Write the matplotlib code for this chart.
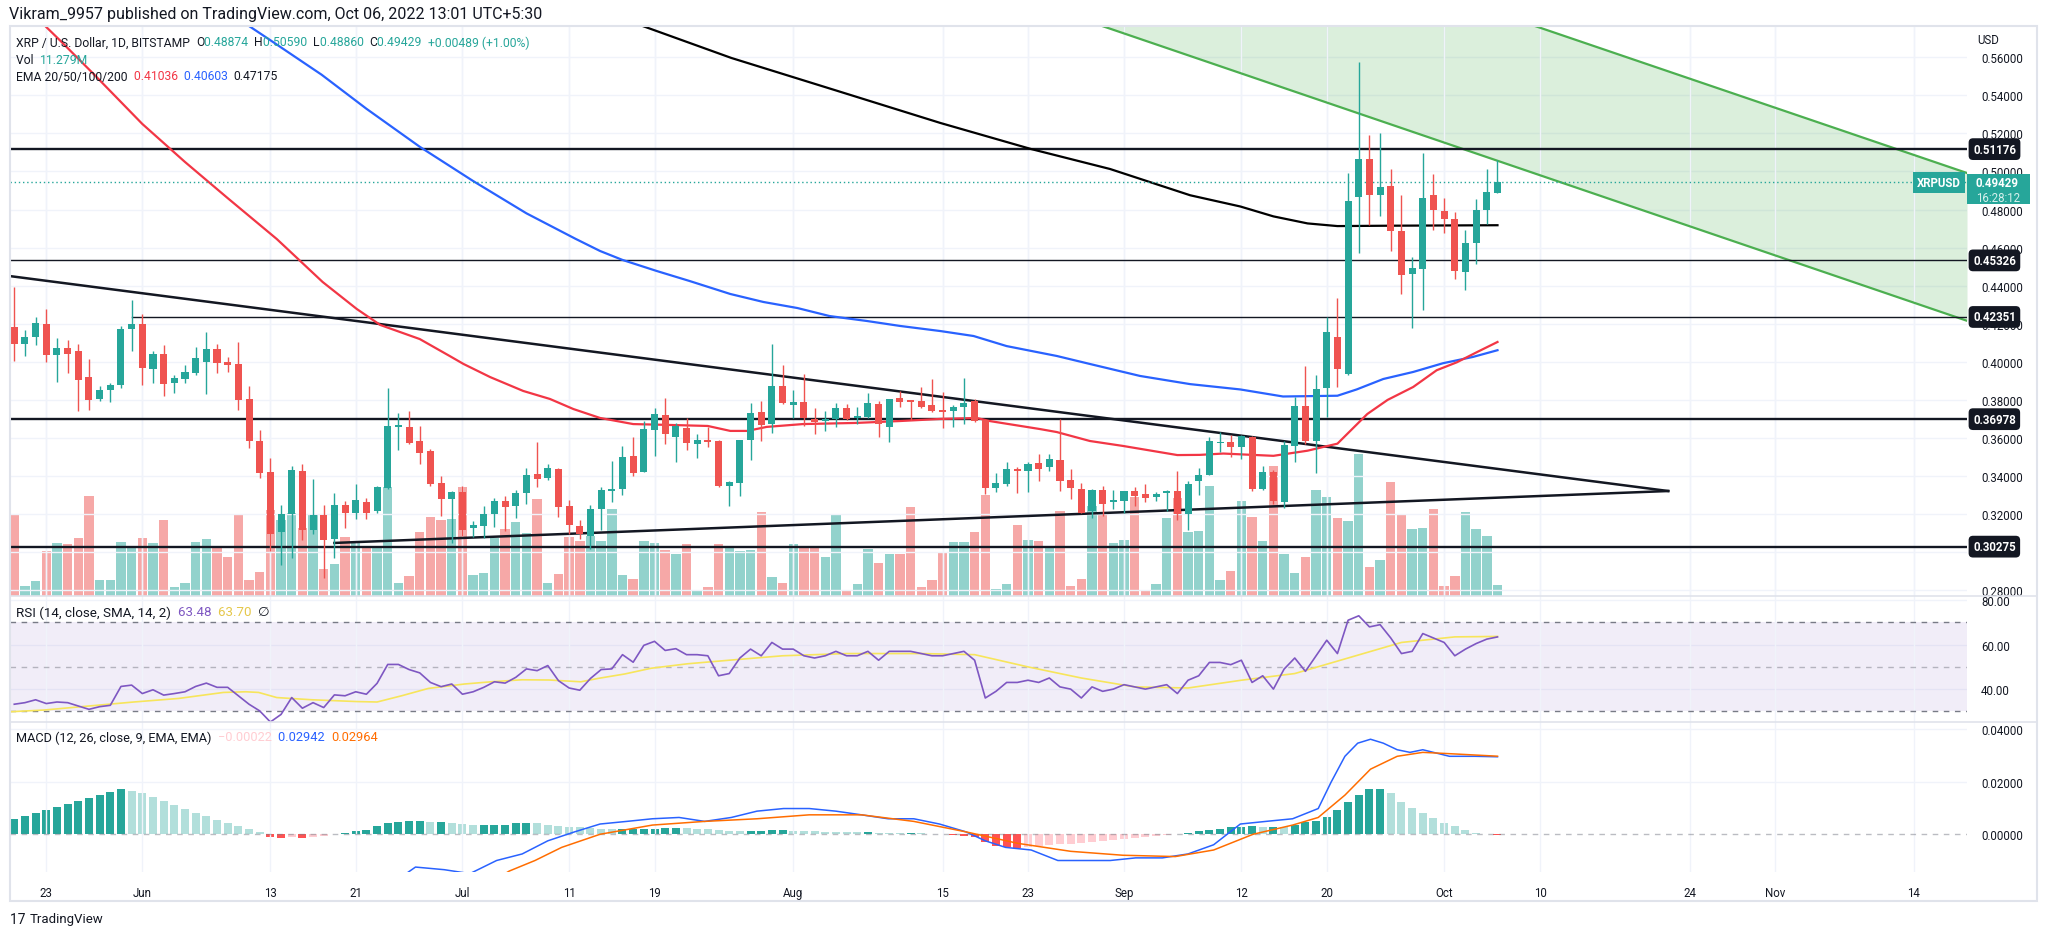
import numpy as np
import matplotlib
matplotlib.use("Agg")
import matplotlib.pyplot as plt
from matplotlib.transforms import blended_transform_factory
from matplotlib.patches import Rectangle
from matplotlib.lines import Line2D

# daily candles, day 0 = 2022-05-20 ... day 139 = 2022-10-06
opens = [0.4183, 0.4093, 0.4128, 0.4199, 0.4033, 0.4072, 0.4058, 0.3920, 0.3805, 0.3853,
         0.3879, 0.4170, 0.4199, 0.3959, 0.4040, 0.3890, 0.3911, 0.3938, 0.3996, 0.4066,
         0.3998, 0.3987, 0.3802, 0.3585, 0.3421, 0.3102, 0.3199, 0.3423, 0.3114, 0.3193,
         0.3066, 0.3246, 0.3207, 0.3264, 0.3213, 0.3338, 0.3657, 0.3654, 0.3581, 0.3528,
         0.3363, 0.3276, 0.3317, 0.3124, 0.3137, 0.3197, 0.3269, 0.3239, 0.3308, 0.3412,
         0.3387, 0.3437, 0.3241, 0.3137, 0.3084, 0.3223, 0.3322, 0.3329, 0.3502, 0.3419,
         0.3640, 0.3719, 0.3604, 0.3652, 0.3567, 0.3587, 0.3583, 0.3345, 0.3361, 0.3587,
         0.3735, 0.3673, 0.3872, 0.3774, 0.3786, 0.3701, 0.3689, 0.3701, 0.3759, 0.3705,
         0.3710, 0.3777, 0.3657, 0.3809, 0.3797, 0.3793, 0.3772, 0.3745, 0.3742, 0.3763,
         0.3791, 0.3696, 0.3336, 0.3356, 0.3438, 0.3424, 0.3465, 0.3446, 0.3481, 0.3380,
         0.3333, 0.3213, 0.3327, 0.3260, 0.3266, 0.3322, 0.3306, 0.3287, 0.3310, 0.3322,
         0.3197, 0.3374, 0.3403, 0.3573, 0.3580, 0.3551, 0.3606, 0.3330, 0.3422, 0.3262,
         0.3556, 0.3768, 0.3584, 0.3863, 0.4130, 0.3937, 0.4864, 0.5064, 0.4875, 0.4924,
         0.4685, 0.4461, 0.4485, 0.4875, 0.4792, 0.4750, 0.4474, 0.4626, 0.4796, 0.48874]
highs = [0.4395, 0.4169, 0.4236, 0.4275, 0.4125, 0.4116, 0.4095, 0.4015, 0.3872, 0.3886,
         0.4190, 0.4322, 0.4253, 0.4058, 0.4089, 0.3931, 0.3984, 0.4079, 0.4158, 0.4095,
         0.4026, 0.4105, 0.3872, 0.3640, 0.3491, 0.3248, 0.3454, 0.3460, 0.3384, 0.3246,
         0.3310, 0.3269, 0.3357, 0.3285, 0.3348, 0.3860, 0.3728, 0.3740, 0.3661, 0.3542,
         0.3400, 0.3322, 0.3347, 0.3163, 0.3243, 0.3283, 0.3296, 0.3327, 0.3442, 0.3578,
         0.3463, 0.3440, 0.3274, 0.3169, 0.3246, 0.3340, 0.3477, 0.3555, 0.3602, 0.3687,
         0.3756, 0.3809, 0.3677, 0.3703, 0.3618, 0.3657, 0.3587, 0.3372, 0.3590, 0.3782,
         0.3793, 0.4095, 0.3984, 0.3851, 0.3936, 0.3759, 0.3740, 0.3782, 0.3775, 0.3761,
         0.3837, 0.3791, 0.3802, 0.3846, 0.3797, 0.3869, 0.3909, 0.3839, 0.3772, 0.3915,
         0.3802, 0.3696, 0.3416, 0.3475, 0.3446, 0.3470, 0.3513, 0.3513, 0.3701, 0.3438,
         0.3364, 0.3333, 0.3348, 0.3327, 0.3322, 0.3340, 0.3359, 0.3317, 0.3327, 0.3423,
         0.3375, 0.3440, 0.3602, 0.3630, 0.3615, 0.3615, 0.3609, 0.3449, 0.3431, 0.3584,
         0.3812, 0.3977, 0.3931, 0.4235, 0.4336, 0.4994, 0.5577, 0.5191, 0.5202, 0.5013,
         0.4875, 0.4549, 0.5095, 0.4989, 0.4860, 0.4786, 0.4691, 0.4856, 0.5013, 0.50590]
lows = [0.4001, 0.4028, 0.4089, 0.3996, 0.3895, 0.3938, 0.3742, 0.3747, 0.3795, 0.3789,
        0.3860, 0.4054, 0.3878, 0.3888, 0.3821, 0.3835, 0.3890, 0.3932, 0.3832, 0.3938,
        0.3948, 0.3747, 0.3546, 0.3387, 0.3004, 0.2929, 0.2966, 0.3061, 0.3096, 0.2863,
        0.2969, 0.3124, 0.3172, 0.3172, 0.3202, 0.3330, 0.3537, 0.3565, 0.3463, 0.3345,
        0.3190, 0.3049, 0.3084, 0.3080, 0.3075, 0.3133, 0.3110, 0.3176, 0.3251, 0.3340,
        0.3380, 0.3184, 0.3093, 0.3066, 0.3013, 0.3114, 0.3260, 0.3301, 0.3401, 0.3419,
        0.3504, 0.3567, 0.3472, 0.3534, 0.3491, 0.3551, 0.3343, 0.3243, 0.3296, 0.3481,
        0.3581, 0.3627, 0.3775, 0.3705, 0.3661, 0.3620, 0.3636, 0.3657, 0.3694, 0.3670,
        0.3705, 0.3602, 0.3578, 0.3763, 0.3692, 0.3758, 0.3737, 0.3652, 0.3657, 0.3673,
        0.3684, 0.3303, 0.3313, 0.3345, 0.3308, 0.3313, 0.3375, 0.3424, 0.3318, 0.3276,
        0.3202, 0.3177, 0.3188, 0.3223, 0.3207, 0.3243, 0.3260, 0.3266, 0.3213, 0.3170,
        0.3117, 0.3297, 0.3403, 0.3523, 0.3499, 0.3490, 0.3321, 0.3326, 0.3253, 0.3229,
        0.3473, 0.3569, 0.3413, 0.3707, 0.3867, 0.3930, 0.4571, 0.4718, 0.4764, 0.4580,
        0.4354, 0.4176, 0.4271, 0.4694, 0.4676, 0.4437, 0.4378, 0.4516, 0.4724, 0.48860]
closes = [0.4093, 0.4130, 0.4204, 0.4033, 0.4072, 0.4043, 0.3906, 0.3800, 0.3851, 0.3878,
          0.4174, 0.4199, 0.3969, 0.4040, 0.3885, 0.3913, 0.3945, 0.4019, 0.4066, 0.3991,
          0.3985, 0.3800, 0.3583, 0.3414, 0.3096, 0.3199, 0.3428, 0.3114, 0.3193, 0.3061,
          0.3246, 0.3207, 0.3273, 0.3207, 0.3341, 0.3661, 0.3666, 0.3572, 0.3520, 0.3356,
          0.3276, 0.3317, 0.3114, 0.3140, 0.3199, 0.3269, 0.3234, 0.3311, 0.3405, 0.3382,
          0.3442, 0.3234, 0.3140, 0.3096, 0.3225, 0.3327, 0.3331, 0.3497, 0.3414, 0.3645,
          0.3724, 0.3620, 0.3661, 0.3572, 0.3587, 0.3578, 0.3348, 0.3370, 0.3587, 0.3730,
          0.3666, 0.3872, 0.3782, 0.3786, 0.3705, 0.3684, 0.3701, 0.3754, 0.3698, 0.3714,
          0.3781, 0.3670, 0.3802, 0.3789, 0.3788, 0.3763, 0.3742, 0.3737, 0.3761, 0.3782,
          0.3689, 0.3334, 0.3363, 0.3438, 0.3424, 0.3460, 0.3438, 0.3486, 0.3371, 0.3334,
          0.3202, 0.3327, 0.3250, 0.3271, 0.3322, 0.3296, 0.3281, 0.3306, 0.3322, 0.3197,
          0.3359, 0.3403, 0.3582, 0.3580, 0.3554, 0.3609, 0.3330, 0.3422, 0.3265, 0.3560,
          0.3768, 0.3584, 0.3854, 0.4157, 0.3964, 0.4845, 0.5064, 0.4878, 0.4917, 0.4685,
          0.4455, 0.4492, 0.4860, 0.4796, 0.4751, 0.4479, 0.4625, 0.4796, 0.4893, 0.49429]
# volume, millions
volumes = [82, 10, 15, 45, 53, 52, 58, 100, 16, 16, 54, 50, 58, 53, 76, 9, 13, 54, 57, 48,
           39, 81, 16, 24, 86, 76, 83, 68, 81, 27, 32, 59, 53, 48, 48, 109, 13, 20, 64, 79,
           76, 77, 109, 21, 23, 58, 67, 74, 63, 97, 13, 22, 59, 55, 60, 55, 87, 21, 17, 55,
           53, 46, 42, 52, 6, 9, 52, 48, 45, 46, 84, 19, 13, 52, 48, 48, 39, 82, 5, 12,
           47, 33, 42, 42, 89, 9, 16, 44, 54, 54, 64, 101, 7, 12, 71, 56, 55, 48, 85, 10,
           17, 90, 83, 53, 56, 99, 6, 12, 78, 98, 64, 65, 110, 16, 25, 95, 79, 55, 130, 42,
           23, 39, 106, 99, 78, 75, 142, 29, 36, 114, 81, 67, 68, 87, 10, 20, 84, 67, 60, 11.279]

# moving averages (day, price)
ema50_days = [2.9, 4.2, 7.5, 12, 16, 20, 24.6, 25.8, 28.9, 32.1, 34.3, 38.0, 40.8, 42.1, 44.6,
              47.7, 50.2, 52.4, 54.9, 58.0, 61.7, 65.0, 67.1, 68.7, 70.5, 73.9, 78.9, 83.0,
              86.8, 90.2, 91.4, 96.1, 97.7, 100.8, 103.9, 109.0, 111.1, 113.3, 118.0, 121.2,
              124.0, 126.8, 128.7, 131.1, 133.3, 135.2, 137.1, 139]
ema50_vals = [0.5765, 0.5694, 0.5509, 0.525, 0.505, 0.486, 0.4645, 0.4582, 0.4419, 0.4277,
              0.4193, 0.4119, 0.4030, 0.3988, 0.3919, 0.3846, 0.3804, 0.3751, 0.3704, 0.3672,
              0.3667, 0.3662, 0.3636, 0.3636, 0.3657, 0.3672, 0.3678, 0.3688, 0.3699, 0.3704,
              0.3688, 0.3646, 0.3630, 0.3583, 0.3557, 0.3509, 0.3510, 0.3517, 0.3505, 0.3532,
              0.3569, 0.3725, 0.3799, 0.3867, 0.3955, 0.3997, 0.4051, 0.41036]
ema100_days = [22.0, 23.9, 28.8, 33.0, 38.0, 43.0, 48.0, 52.6, 54.9, 57.0, 60.2, 63.3, 67.1,
               70.2, 73.4, 76.4, 79.9, 83.0, 86.8, 89.9, 93.0, 97.7, 100.8, 105.5, 110.2,
               114.9, 118.9, 124.0, 125.8, 128.3, 131.1, 133.9, 136.7, 139]
ema100_vals = [0.5765, 0.5694, 0.5509, 0.5330, 0.5130, 0.4950, 0.4780, 0.4646, 0.4582, 0.4535,
               0.4477, 0.4424, 0.4356, 0.4314, 0.4282, 0.4240, 0.4214, 0.4188, 0.4161, 0.4135,
               0.4082, 0.4030, 0.3988, 0.3925, 0.3882, 0.3854, 0.3817, 0.3821, 0.3854, 0.3909,
               0.3946, 0.3992, 0.4025, 0.40603]
ema200_days = [58.0, 67.2, 76.9, 86.8, 95.3, 102.7, 110.2, 114.9, 118.0, 121.2, 124.0, 129.0, 139]
ema200_vals = [0.5783, 0.5597, 0.5428, 0.5255, 0.5118, 0.5013, 0.4875, 0.4816, 0.4764, 0.4727,
               0.4713, 0.4715, 0.47175]

# drawn levels and lines
levels = [0.51176, 0.45326, 0.42351, 0.36978, 0.30275]
level_from = [-0.4, -0.4, 11.0, -0.4, -0.4]
wedge_top = [(-0.4, 0.4450), (155.0, 0.3320)]
wedge_bottom = [(30.0, 0.3047), (155.0, 0.3320)]
channel_low = [(95.0, 0.5898), (183.0, 0.4215)]
channel_high = [(140.0, 0.5813), (183.0, 0.4992)]

# RSI (14) and its SMA
rsi_days = list(range(140))
rsi_vals = [33.2, 33.9, 35.2, 33.5, 34.2, 33.9, 32.4, 30.9, 32.1, 32.7, 41.2, 41.8, 38.0, 39.7,
            37.3, 38.0, 38.8, 41.2, 42.7, 40.8, 40.8, 37.0, 33.2, 30.2, 25.2, 28.6, 36.2, 31.4,
            33.9, 31.7, 37.4, 37.0, 38.8, 37.7, 42.6, 51.1, 51.1, 48.8, 47.3, 43.0, 41.1, 42.3,
            37.7, 38.8, 40.8, 43.3, 42.7, 45.3, 49.1, 48.3, 50.6, 43.8, 40.5, 39.5, 44.8, 48.8,
            49.1, 55.5, 52.1, 59.7, 61.5, 57.4, 58.2, 55.5, 55.5, 55.0, 46.0, 47.0, 54.0, 58.0,
            55.0, 61.0, 58.0, 58.0, 55.0, 54.0, 55.0, 57.0, 55.0, 55.0, 57.0, 53.0, 57.0, 57.0,
            57.0, 56.0, 55.0, 55.0, 56.0, 57.0, 53.0, 36.0, 39.0, 43.0, 43.0, 44.0, 43.0, 45.0,
            41.0, 40.0, 36.0, 41.0, 39.0, 40.0, 42.0, 41.0, 40.0, 41.0, 42.0, 38.0, 44.0, 46.0,
            52.0, 52.0, 51.0, 53.0, 43.0, 46.0, 40.0, 49.0, 54.0, 48.0, 55.0, 62.0, 56.0, 71.0,
            73.0, 68.0, 69.0, 63.0, 56.0, 57.0, 65.0, 63.0, 61.0, 55.0, 58.0, 60.5, 62.5, 63.48]
rsi_ma_days = [-0.4, 2.84, 7, 11.2, 15.4, 19.6, 21.7, 22.9, 24.6, 27.9, 32.1, 34, 36.3, 38.8,
               42.2, 44.7, 47.6, 50.1, 53.1, 54.7, 57.2, 59.7, 63.1, 67, 72, 78, 85, 90, 95,
               100, 105, 110, 115, 120, 125, 130, 135, 139]
rsi_ma_vals = [29.8, 30.6, 32.4, 34.2, 35.8, 38.5, 38.8, 38.5, 36.2, 35.2, 34.4, 34.2, 37.0, 40.3,
               42.3, 43.3, 44.2, 44.1, 43.3, 44.8, 46.8, 49.4, 51.4, 53.0, 55.0, 56.0, 56.0, 55.5,
               50.0, 45.0, 41.0, 40.5, 44.0, 47.0, 54.0, 61.0, 63.5, 63.70]

# MACD (12, 26, 9)
macd_hist = [0.0057, 0.0068, 0.008, 0.0091, 0.0102, 0.0114, 0.0125, 0.0136, 0.0147, 0.0159,
             0.017, 0.0165, 0.0155, 0.014, 0.0125, 0.011, 0.0095, 0.008, 0.0068, 0.0055, 0.0042,
             0.003, 0.0018, 0.0006, -0.001, -0.0015, -0.001, -0.0015, -0.001, -0.0008, 0.0,
             0.0005, 0.001, 0.0015, 0.003, 0.004, 0.0045, 0.005, 0.005, 0.0045, 0.0045, 0.004,
             0.0038, 0.0035, 0.0035, 0.0035, 0.0035, 0.004, 0.0042, 0.004, 0.0035, 0.003, 0.0028,
             0.0025, 0.0022, 0.002, 0.0018, 0.0018, 0.002, 0.002, 0.002, 0.0022, 0.0023, 0.0022,
             0.002, 0.0018, 0.0015, 0.0012, 0.001, 0.001, 0.0012, 0.0015, 0.0015, 0.0013,
             0.0011, 0.001, 0.0009, 0.0008, 0.0007, 0.0006, 0.0006, 0.0005, 0.0004, 0.0003,
             0.0003, 0.0002, 0.0001, 0.0, -0.0003, -0.0006, -0.001, -0.003, -0.0045, -0.005,
             -0.0052, -0.005, -0.0046, -0.0042, -0.004, -0.0038, -0.0036, -0.003, -0.0026,
             -0.0022, -0.0018, -0.0014, -0.001, -0.0006, -0.0002, 0.0001, 0.0005, 0.001, 0.0015,
             0.002, 0.0025, 0.0028, 0.003, 0.0025, 0.0028, 0.0026, 0.0035, 0.0045, 0.005,
             0.0065, 0.009, 0.012, 0.015, 0.017, 0.017, 0.0155, 0.012, 0.01, 0.008, 0.006,
             0.004, 0.003, 0.0015, 0.0005, 0.0, -0.00022]
macd_days = [35.0, 37.6, 40.3, 42.7, 45.2, 47.6, 50.0, 52.5, 54.9, 57.4, 59.8, 62.3, 64.7, 67.2,
             69.6, 72.1, 74.5, 77.0, 79.4, 81.9, 84.3, 86.7, 89.2, 91.0, 92.9, 95.3, 97.8, 100.2,
             102.7, 105.1, 107.6, 110.0, 112.4, 114.9, 117.3, 119.8, 122.2, 123.4, 124.7, 125.9,
             127.1, 128.3, 129.6, 130.8, 132.0, 134.5, 136.9, 139]
macd_vals = [-0.020, -0.0126, -0.0136, -0.0151, -0.0101, -0.0076, -0.0026, 0.0008, 0.0038,
             0.0048, 0.0058, 0.0063, 0.0048, 0.0063, 0.0087, 0.0097, 0.0097, 0.0087, 0.0073,
             0.0058, 0.0058, 0.0038, 0.0008, -0.0026, -0.0051, -0.0061, -0.0101, -0.0101,
             -0.0101, -0.0091, -0.0091, -0.0076, -0.0041, 0.0038, 0.0048, 0.0058, 0.0097,
             0.0197, 0.0296, 0.0346, 0.0361, 0.0346, 0.0321, 0.0311, 0.0321, 0.0296, 0.0296,
             0.02942]
signal_days = [44.0, 46.4, 48.8, 51.3, 54.9, 59.8, 64.7, 69.6, 74.5, 79.4, 84.3, 89.2, 94.1, 99.0,
               103.9, 108.8, 112.4, 116.1, 119.8, 122.2, 124.7, 127.1, 129.6, 132.0, 134.5, 139]
signal_vals = [-0.020, -0.0141, -0.0101, -0.0051, -0.0001, 0.0034, 0.0048, 0.0058, 0.0073,
               0.0073, 0.0048, 0.0008, -0.0036, -0.0066, -0.0081, -0.0086, -0.0061, -0.0001,
               0.0034, 0.0063, 0.0148, 0.0247, 0.0296, 0.0311, 0.0306, 0.02964]

tick_days = [3, 12, 24, 32, 42, 52, 60, 73, 87, 95, 104, 115, 123, 134, 143, 157, 165, 178]
tick_labels = ["23", "Jun", "13", "21", "Jul", "11", "19", "Aug", "15", "23", "Sep", "12",
               "20", "Oct", "10", "24", "Nov", "14"]

GREEN = "#26a69a"
RED = "#ef5350"
INK = "#131722"
GRID = "#f0f3fa"
FRAME = "#e0e3eb"
W, H = 2047, 937
XMIN, XMAX = -0.4, 183.0
FS = 8.3

plt.rcParams["font.family"] = ["Roboto", "DejaVu Sans"]

fig = plt.figure(figsize=(W / 100, H / 100), dpi=100)


def rect(x0, y0, x1, y1):
    return [x0 / W, 1 - y1 / H, (x1 - x0) / W, (y1 - y0) / H]


axv = fig.add_axes(rect(10, 27, 1967, 597))
ax = fig.add_axes(rect(10, 27, 1967, 597), sharex=axv)
ax_rsi = fig.add_axes(rect(10, 597, 1967, 723), sharex=axv)
ax_macd = fig.add_axes(rect(10, 723, 1967, 873), sharex=axv)
ax.patch.set_visible(False)

for a in (axv, ax, ax_rsi, ax_macd):
    for s in a.spines.values():
        s.set_visible(False)
    a.set_xlim(XMIN, XMAX)
    a.set_xticks(tick_days)
    a.tick_params(length=0, labelbottom=False)
    a.grid(axis="x", color=GRID, lw=1)
    a.yaxis.tick_right()
    a.tick_params(axis="y", colors=INK, labelsize=FS, pad=10)

x = np.arange(len(closes))
o = np.array(opens)
c = np.array(closes)
up = c >= o
cols = np.where(up, GREEN, RED)

# volume
axv.bar(x, volumes, width=0.88, color=cols, alpha=0.5, lw=0)
axv.set_ylim(0, 570)
axv.set_yticks([])

# price panel (0.30 label sits under the 0.30275 box, as on the original)
price_ticks = np.arange(0.28, 0.561, 0.02)
ax.set_ylim(0.2768, 0.5765)
ax.set_yticks(price_ticks)
ax.set_yticklabels(["" if abs(v - 0.30) < 1e-6 else f"{v:.5f}" for v in price_ticks])
for v in price_ticks:
    ax.axhline(v, color=GRID, lw=1, zorder=0)

# channel
cx = np.linspace(channel_low[0][0], channel_low[1][0], 50)
lo = np.interp(cx, [channel_low[0][0], channel_low[1][0]], [channel_low[0][1], channel_low[1][1]])
sl = (channel_high[1][1] - channel_high[0][1]) / (channel_high[1][0] - channel_high[0][0])
hi = channel_high[1][1] + sl * (cx - channel_high[1][0])
ax.fill_between(cx, lo, hi, color="#4caf50", alpha=0.2, lw=0, zorder=1)
ax.plot(cx, lo, color="#4caf50", lw=1.6, zorder=2)
ax.plot(cx, hi, color="#4caf50", lw=1.6, zorder=2)

for p, x0 in zip(levels, level_from):
    lw = 1.7 if p in (0.51176, 0.36978, 0.30275) else 1.0
    ax.plot([x0, XMAX], [p, p], color=INK, lw=lw, zorder=2)
for seg in (wedge_top, wedge_bottom):
    ax.plot([seg[0][0], seg[1][0]], [seg[0][1], seg[1][1]], color=INK, lw=1.8, zorder=2)

ax.plot(ema200_days, ema200_vals, color="#000000", lw=1.6, zorder=2)
ax.plot(ema100_days, ema100_vals, color="#2962ff", lw=1.6, zorder=2)
ax.plot(ema50_days, ema50_vals, color="#f23645", lw=1.6, zorder=2)

ax.vlines(x, lows, highs, colors=cols, lw=1.0, zorder=3)
ax.bar(x, np.maximum(np.abs(c - o), 0.0006), bottom=np.minimum(o, c), width=0.66,
       color=cols, lw=0, zorder=4)
ax.axhline(closes[-1], color=GREEN, lw=1, ls=(0, (1, 2)), zorder=3)

# labels on price scale
tr = blended_transform_factory(ax.transAxes, ax.transData)
for p in levels:
    ax.annotate(f"{p:.5f}", xy=(1.0, p), xycoords=tr, xytext=(6, 0), textcoords="offset pixels",
                ha="left", va="center", color="white", fontsize=FS, fontweight="bold",
                bbox=dict(boxstyle="round,pad=0.38", fc=INK, ec="none"), annotation_clip=False, zorder=6)
ax.add_patch(Rectangle((1.0, closes[-1] - 0.0116), 63 / 1957, 0.0160, transform=tr, fc=GREEN,
                       ec="none", clip_on=False, zorder=6))
ax.annotate(f"{closes[-1]:.5f}", xy=(1.0, closes[-1]), xycoords=tr, xytext=(9, 0),
            textcoords="offset pixels", ha="left", va="center", color="white", fontsize=FS,
            fontweight="bold", annotation_clip=False, zorder=7)
ax.annotate("16:28:12", xy=(1.0, closes[-1]), xycoords=tr, xytext=(9, -15),
            textcoords="offset pixels", ha="left", va="center", color="#d6f0ec", fontsize=FS,
            annotation_clip=False, zorder=7)
ax.annotate("XRPUSD", xy=(1.0, closes[-1]), xycoords=tr, xytext=(-6, 0),
            textcoords="offset pixels", ha="right", va="center", color="white", fontsize=FS,
            fontweight="bold", bbox=dict(boxstyle="square,pad=0.35", fc=GREEN, ec="none"),
            annotation_clip=False, zorder=7)

# RSI panel
ax_rsi.set_ylim(25.2, 81.9)
ax_rsi.set_yticks([40, 60, 80])
ax_rsi.set_yticklabels(["40.00", "60.00", "80.00"])
for v in (40, 60, 80):
    ax_rsi.axhline(v, color=GRID, lw=1, zorder=0)
ax_rsi.fill_between([XMIN, XMAX], 30, 70, color="#7e57c2", alpha=0.1, lw=0)
for v, al in ((70, 1), (30, 1), (50, 0.5)):
    ax_rsi.axhline(v, color="#787b86", lw=1, ls=(0, (4, 4)), alpha=al)
ax_rsi.plot(rsi_ma_days, rsi_ma_vals, color="#f7e55b", lw=1.2)
ax_rsi.plot(rsi_days, rsi_vals, color="#7e57c2", lw=1.2)

# MACD panel
ax_macd.set_ylim(-0.01448, 0.04267)
ax_macd.set_yticks([0.0, 0.02, 0.04])
ax_macd.set_yticklabels(["0.00000", "0.02000", "0.04000"])
for v in (0.02, 0.04):
    ax_macd.axhline(v, color=GRID, lw=1, zorder=0)
ax_macd.axhline(0, color="#787b86", lw=1, ls=(0, (4, 4)), alpha=0.5)
hist = np.array(macd_hist)
prev = np.concatenate([[hist[0]], hist[:-1]])
hcol = np.where(hist >= 0, np.where(hist >= prev, "#26a69a", "#b2dfdb"),
                np.where(hist < prev, "#ff5252", "#ffcdd2"))
ax_macd.bar(x, hist, width=0.75, color=hcol, lw=0)
ax_macd.plot(macd_days, macd_vals, color="#2962ff", lw=1.1)
ax_macd.plot(signal_days, signal_vals, color="#ff6d00", lw=1.1)
ax_macd.tick_params(axis="x", labelbottom=True, colors=INK, labelsize=FS, pad=10)
ax_macd.set_xticklabels(tick_labels)

# frame and separators
fig.add_artist(Rectangle((10 / W, 1 - 902 / H), 2027 / W, 875 / H, transform=fig.transFigure,
                         fill=False, ec=FRAME, lw=1.5))
for yy in (597, 723):
    fig.add_artist(Line2D([10 / W, 2037 / W], [1 - yy / H] * 2, transform=fig.transFigure,
                          color=FRAME, lw=1.2))

fig.text(1977 / W, 1 - 41 / H, "USD", color=INK, fontsize=FS, va="center")

renderer = fig.canvas.get_renderer()


def rich(x0, y0, parts, size=9.6):
    for s, col in parts:
        t = fig.text(x0 / W, 1 - y0 / H, s, color=col, fontsize=size, va="center")
        x0 += t.get_window_extent(renderer).width


rich(9, 15, [("Vikram_9957 published on TradingView.com, Oct 06, 2022 13:01 UTC+5:30", INK)], 11.5)
rich(16, 43, [("XRP / U.S. Dollar, 1D, BITSTAMP  ", INK), ("O", INK), ("0.48874  ", GREEN),
              ("H", INK), ("0.50590  ", GREEN), ("L", INK), ("0.48860  ", GREEN),
              ("C", INK), ("0.49429  ", GREEN), ("+0.00489 (+1.00%)", GREEN)], 8.7)
rich(16, 60, [("Vol  ", INK), ("11.279M", GREEN)], 8.7)
rich(16, 77, [("EMA 20/50/100/200  ", INK), ("0.41036  ", "#f23645"), ("0.40603  ", "#2962ff"),
              ("0.47175", INK)], 8.7)
rich(16, 613, [("RSI (14, close, SMA, 14, 2)  ", INK), ("63.48  ", "#7e57c2"),
               ("63.70  ", "#e5c74a"), ("\u2205", INK)])
rich(16, 738, [("MACD (12, 26, close, 9, EMA, EMA)  ", INK), ("\u22120.00022  ", "#ffcdd2"),
               ("0.02942  ", "#2962ff"), ("0.02964", "#ff6d00")], 9.2)
rich(10, 920, [("17 ", INK)], 10)
rich(30, 920, [("TradingView", INK)], 9.5)

fig.savefig("out.png", dpi=100, facecolor="white")
